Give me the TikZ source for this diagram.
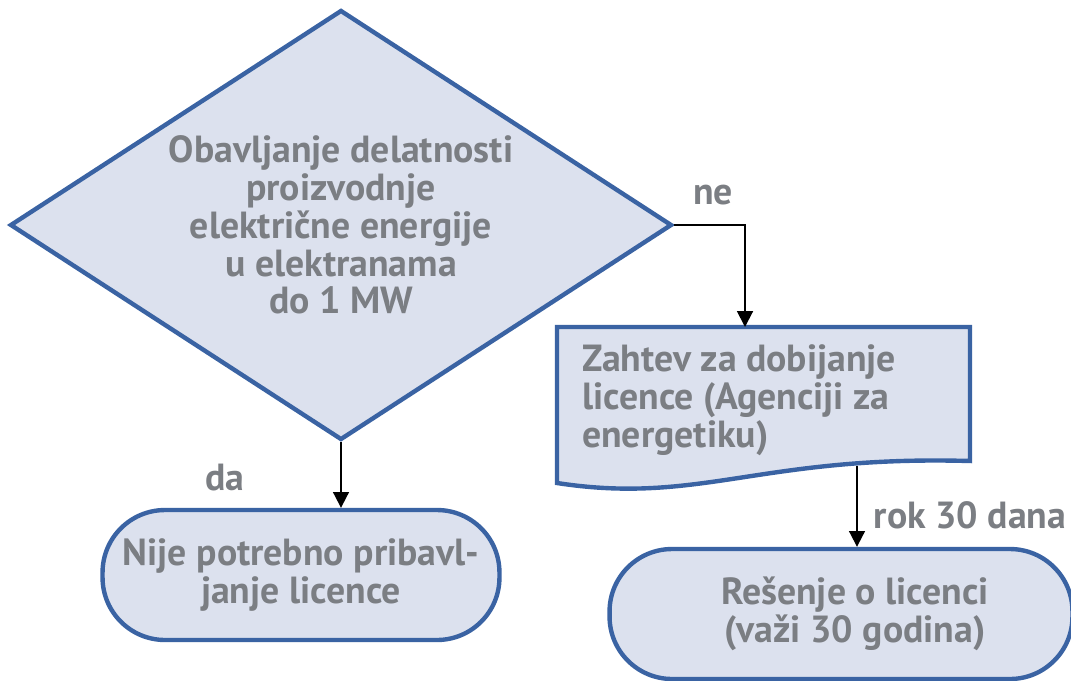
\documentclass[tikz,border=0pt]{standalone}
\usepackage{fontspec}
\setmainfont{PT Sans}
\usetikzlibrary{arrows.meta,positioning,shapes.geometric}
\definecolor{flowblue}{HTML}{3A63A3}
\definecolor{flowfill}{HTML}{DCE1EE}
\definecolor{flowtext}{HTML}{7B7E83}
\tikzset{
  txt/.style={text=flowtext, font=\fontsize{21.5}{21.5}\selectfont\bfseries},
  decbox/.style={diamond, aspect=1.54, draw=flowblue, fill=flowfill, line width=2.5pt,
                 inner sep=0pt, minimum width=13.24cm, minimum height=8.6cm,
                 align=center, txt},
  termbox/.style={rectangle, rounded corners=1.25cm, draw=flowblue, fill=flowfill,
                  line width=2.5pt, minimum height=2.6cm, align=center, txt},
  docbox/.style={draw=flowblue, fill=flowfill, line width=2.5pt, line join=miter},
  arr/.style={-{Triangle[length=9pt,width=9pt]}, line width=1.1pt, draw=black},
}
\begin{document}
\begin{tikzpicture}[x=0.02cm, y=-0.02cm]
  \useasboundingbox (0,0) rectangle (1071,680);
  % decision
  \node[decbox] (dec) at (341,225) {Obavljanje delatnosti\\proizvodnje\\električne energije\\u elektranama\\do 1 MW};
  % request (document shape)
  \draw[docbox] (557,327) -- (970,327) -- (970,461)
    .. controls (760,455) and (700,505) .. (557,483) -- cycle;
  \node[txt, anchor=west, align=left] (req) at (576,400) {Zahtev za dobijanje\\licence (Agenciji za\\energetiku)};
  \coordinate (doctop) at (745,327);
  \coordinate (docbot) at (857,466);
  % terminals
  \node[termbox, minimum width=7.94cm] (nolic) at (301,575) {Nije potrebno pribavl-\\janje licence};
  \node[termbox, minimum width=9.26cm] (sol) at (841,614) {};
  \node[txt, align=center] (soltext) at (855,614) {Rešenje o licenci\\(važi 30 godina)};
  % connectors
  \draw[arr] (dec.east) -| (doctop);
  \draw[arr] (dec.south) -- (dec.south |- nolic.north);
  \draw[arr] (docbot) -- (docbot |- sol.north);
  % labels
  \node[txt] (ne) at (713,195) {ne};
  \node[txt] (da) at (225,478) {da};
  \node[txt] (rok) at (970,515) {rok 30 dana};
\end{tikzpicture}
\end{document}
